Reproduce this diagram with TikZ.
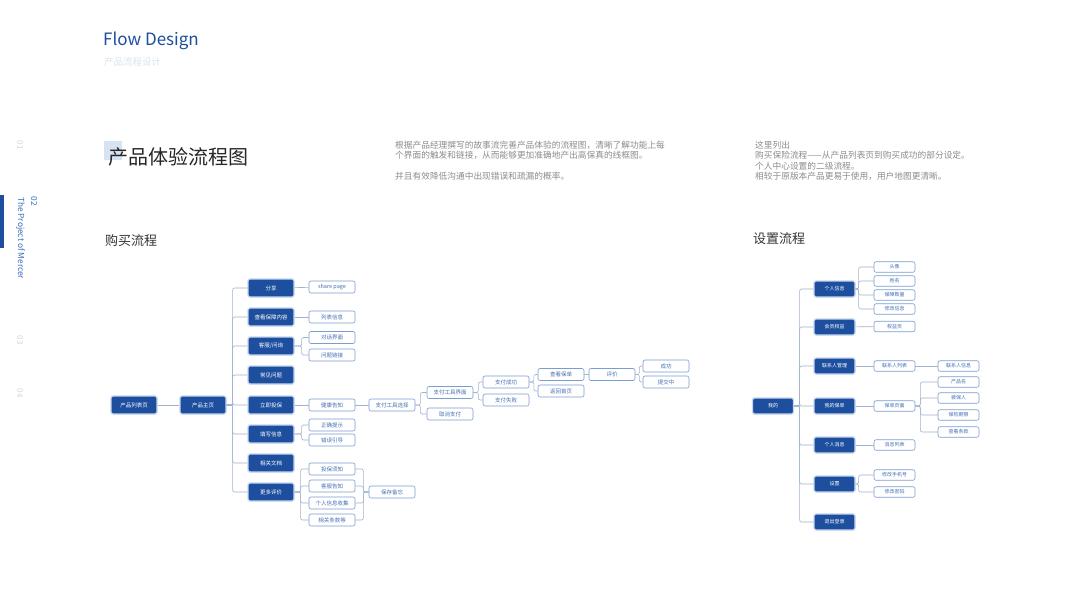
\documentclass[tikz,border=0pt]{standalone}
\usepackage{fontspec}
\setmainfont{Noto Sans CJK SC}
\usepackage{tikz}
\usetikzlibrary{positioning, calc}
\definecolor{deepblue}{HTML}{1E4F9E}
\definecolor{glowblue}{HTML}{C6D6EE}
\definecolor{edgeblue}{HTML}{7C9DD0}
\definecolor{textblue}{HTML}{4570B5}
\definecolor{linkgrey}{HTML}{A0B2CE}
\definecolor{headblue}{HTML}{1B4EA0}
\definecolor{sideblue}{HTML}{3A6FC0}
\definecolor{paleblue}{HTML}{D8E3F2}
\definecolor{notegrey}{HTML}{8C8C8C}
\definecolor{numgrey}{HTML}{D6D6D6}
\tikzset{
  darkbox/.style={fill=deepblue, draw=glowblue, line width=1.3pt, rounded corners=2pt, text=white,
    font=\fontsize{5.5}{6}\selectfont, minimum width=46pt, minimum height=18pt, inner sep=0pt},
  lightbox/.style={fill=white, draw=edgeblue, line width=0.6pt, rounded corners=2pt, text=textblue,
    font=\fontsize{5.5}{6}\selectfont, minimum width=46pt, minimum height=12pt, inner sep=0pt},
  setbox/.style={darkbox, minimum width=41pt, minimum height=16pt, font=\fontsize{5}{6}\selectfont},
  setitem/.style={lightbox, minimum width=41pt, minimum height=10.5pt, font=\fontsize{5}{5}\selectfont},
  link/.style={draw=linkgrey, line width=0.6pt, rounded corners=2pt},
  note/.style={anchor=west, text=notegrey, font=\fontsize{8.7}{9}\selectfont, inner sep=0pt},
  sidenum/.style={rotate=-90, text=numgrey, font=\fontsize{8}{9}\selectfont, inner sep=0pt},
}

\begin{document}
\begin{tikzpicture}[x=1pt, y=-1pt]
  \useasboundingbox[fill=white] (0,0) rectangle (1067,600);
  \node[anchor=west, text=headblue, font=\fontsize{17}{20}\selectfont, inner sep=0pt] (head) at (103,41) {Flow Design};
  \node[anchor=west, text=paleblue, font=\fontsize{9.5}{10}\selectfont, inner sep=0pt] (subhead) at (104,62) {产品流程设计};

  \fill[deepblue] (0,195) rectangle (4,248);
  \foreach \num/\y in {01/145, 03/340, 04/393} { \node[sidenum] (side\num) at (20,\y) {\num}; }
  \node[rotate=-90, anchor=west, text=sideblue, font=\fontsize{8.3}{9}\selectfont, inner sep=0pt] (sidetitle) at (20.5,197) {The Project of Mercer};
  \node[rotate=-90, text=sideblue, font=\fontsize{8.3}{9}\selectfont, inner sep=0pt] (sidecur) at (34,201) {02};

  \fill[paleblue] (104,141) rectangle (122,160);
  \node[anchor=west, text=black!85, font=\fontsize{20}{22}\selectfont, inner sep=0pt] (title) at (108,157) {产品体验流程图};
  \node[note] (introa) at (395,145) {根据产品经理撰写的故事流完善产品体验的流程图，清晰了解功能上每};
  \node[note] (introb) at (395,155.5) {个界面的触发和链接，从而能够更加准确地产出高保真的线框图。};
  \node[note] (introc) at (395,176) {并且有效降低沟通中出现错误和疏漏的概率。};
  \node[note] (notea) at (755,145) {这里列出};
  \node[note] (noteb) at (755,155.5) {购买保险流程——从产品列表页到购买成功的部分设定。};
  \node[note] (notec) at (755,166) {个人中心设置的二级流程。};
  \node[note] (noted) at (755,176.5) {相较于原版本产品更易于使用，用户地图更清晰。};

  \node[anchor=west, text=black!80, font=\fontsize{13}{14}\selectfont, inner sep=0pt] (buyhead) at (105,241) {购买流程};
  \node[anchor=west, text=black!80, font=\fontsize{13}{14}\selectfont, inner sep=0pt] (sethead) at (753,239) {设置流程};

  \node[darkbox] (plist) at (134,405) {产品列表页};
  \node[darkbox] (phome) at (203,405) {产品主页};
  \draw[link] (plist) -- (phome);
  \foreach \id/\txt/\y in {share/分享/288, cover/查看保障内容/317, serv/{客服/问询}/346, faq/常见问题/375,
      buy/立即投保/405, pfill/填写信息/434, docs/相关文档/463, more/更多评价/492} {
    \node[darkbox] (\id) at (271,\y) {\txt};
    \draw[link] (phome.east) -- ++(6,0) |- (\id.west);
  }

  \node[lightbox] (sharepg) at (332,287) {share page};
  \node[lightbox] (listinfo) at (332,317) {列表信息};
  \node[lightbox] (chat) at (332,337.5) {对话界面};
  \node[lightbox] (qlink) at (332,355) {问题链接};
  \node[lightbox] (health) at (332,405) {健康告知};
  \node[lightbox] (okhint) at (332,425) {正确提示};
  \node[lightbox] (errguide) at (332,440) {错误引导};
  \node[lightbox] (notice) at (332,469) {投保须知};
  \node[lightbox] (servtell) at (332,486) {客服告知};
  \node[lightbox] (privacy) at (332,503) {个人信息收集};
  \node[lightbox] (terms) at (332,520) {相关条款等};
  \node[lightbox] (memo) at (392,492) {保存备忘};
  \draw[link] (share) -- (sharepg);
  \draw[link] (cover) -- (listinfo);
  \foreach \c in {chat, qlink} { \draw[link] (serv.east) -- ++(7,0) |- (\c.west); }
  \foreach \c in {okhint, errguide} { \draw[link] (pfill.east) -- ++(7,0) |- (\c.west); }
  \foreach \c in {notice, servtell, privacy, terms} {
    \draw[link] (more.east) -- ++(6,0) |- (\c.west);
    \draw[link] (\c.east) -- ++(8,0) |- (memo.west);
  }

  \node[lightbox] (paysel) at (392,405) {支付工具选择};
  \node[lightbox] (payui) at (450,392.5) {支付工具界面};
  \node[lightbox] (paycancel) at (450,414) {取消支付};
  \node[lightbox] (payok) at (506,382) {支付成功};
  \node[lightbox] (payfail) at (506,400) {支付失败};
  \node[lightbox] (policy) at (561,374.5) {查看保单};
  \node[lightbox] (backhome) at (561,391) {返回首页};
  \node[lightbox] (rate) at (612,374.5) {评价};
  \node[lightbox] (success) at (666,366) {成功};
  \node[lightbox] (submit) at (666,382) {提交中};
  \draw[link] (buy) -- (health);
  \draw[link] (health) -- (paysel);
  \foreach \c in {payui, paycancel} { \draw[link] (paysel.east) -- ++(5,0) |- (\c.west); }
  \foreach \c in {payok, payfail} { \draw[link] (payui.east) -- ++(5,0) |- (\c.west); }
  \foreach \c in {policy, backhome} { \draw[link] (payok.east) -- ++(4.5,0) |- (\c.west); }
  \draw[link] (policy) -- (rate);
  \foreach \c in {success, submit} { \draw[link] (rate.east) -- ++(4,0) |- (\c.west); }

  \node[setbox] (mine) at (773,406) {我的};
  \foreach \id/\txt/\y in {profile/个人信息/289, member/会员权益/327, contact/联系人管理/366, mypolicy/我的保单/406,
      msg/个人消息/445, setting/设置/484, logout/退出登录/522} {
    \node[setbox] (\id) at (834.5,\y) {\txt};
    \draw[link] (mine.east) -- ++(5.5,0) |- (\id.west);
  }

  \foreach \id/\txt/\y in {avatar/头像/267, uname/姓名/281, amount/保障数量/295, editinfo/修改信息/309} {
    \node[setitem] (\id) at (894.5,\y) {\txt};
    \draw[link] (profile.east) -- ++(3,0) |- (\id.west);
  }
  \node[setitem] (rights) at (894.5,326.5) {权益页};
  \node[setitem] (clist) at (894.5,366) {联系人列表};
  \node[setitem] (cinfo) at (958.5,366) {联系人信息};
  \node[setitem] (ppage) at (894.5,406) {保单页面};
  \node[setitem] (mlist) at (894.5,445) {消息列表};
  \draw[link] (member) -- (rights);
  \draw[link] (contact) -- (clist);
  \draw[link] (clist) -- (cinfo);
  \draw[link] (mypolicy) -- (ppage);
  \draw[link] (msg) -- (mlist);
  \foreach \id/\txt/\y in {product/产品名/382, insured/被保人/398, period/保险期限/415, clause/查看条款/432} {
    \node[setitem] (\id) at (958.5,\y) {\txt};
    \draw[link] (ppage.east) -- ++(5,0) |- (\id.west);
  }
  \foreach \id/\txt/\y in {phone/修改手机号/475, pwd/修改密码/492} {
    \node[setitem] (\id) at (894.5,\y) {\txt};
    \draw[link] (setting.east) -- ++(3,0) |- (\id.west);
  }
\end{tikzpicture}
\end{document}
